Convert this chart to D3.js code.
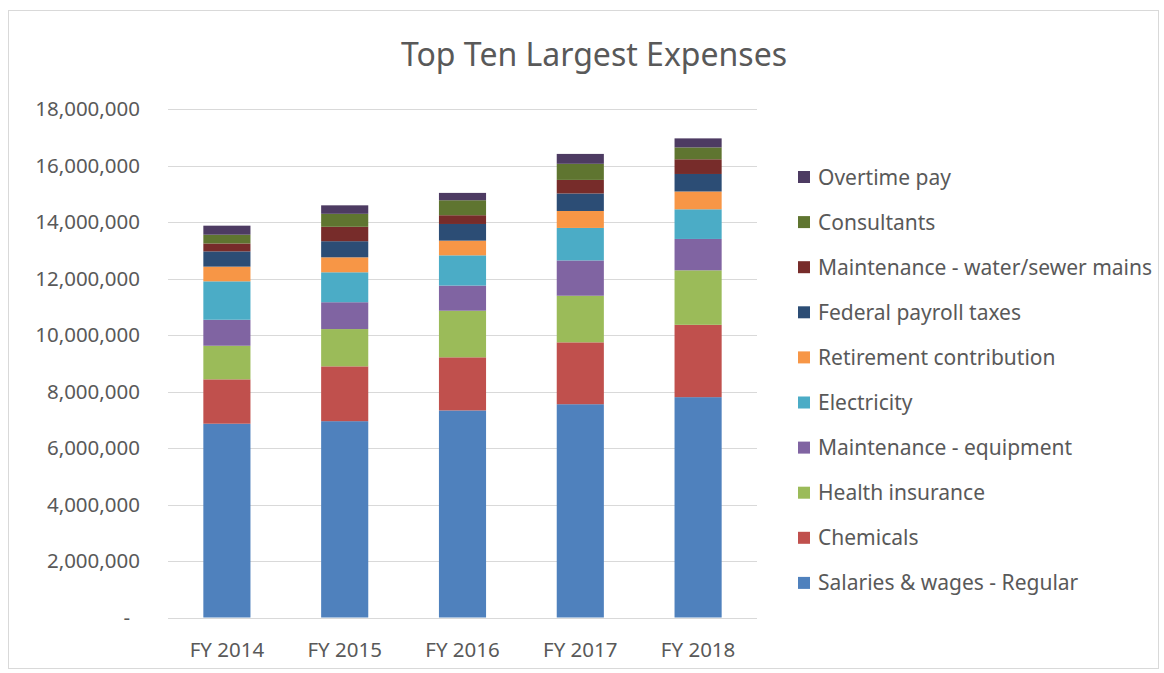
<!DOCTYPE html>
<html><head><meta charset="utf-8">
<script src="https://cdn.jsdelivr.net/npm/d3@7/dist/d3.min.js"></script>
<style>body{margin:0;background:#fff}svg text{font-family:"Noto Sans","Open Sans",sans-serif;fill:#595959}</style>
</head><body><svg id="c" width="1164" height="673"></svg>
<script>
const categories = ["FY 2014","FY 2015","FY 2016","FY 2017","FY 2018"];
const seriesNames = ["Salaries & wages - Regular","Chemicals","Health insurance","Maintenance - equipment","Electricity","Retirement contribution","Federal payroll taxes","Maintenance - water/sewer mains","Consultants","Overtime pay"];
const salaries   = [6860000, 6950000, 7330000, 7550000, 7800000];
const chemicals  = [1570000, 1940000, 1880000, 2190000, 2560000];
const health     = [1190000, 1320000, 1650000, 1650000, 1930000];
const equipment  = [920000, 950000, 890000, 1250000, 1110000];
const electricity= [1360000, 1060000, 1070000, 1150000, 1050000];
const retirement = [520000, 530000, 520000, 600000, 630000];
const federal    = [540000, 570000, 590000, 620000, 620000];
const waterMains = [280000, 510000, 310000, 480000, 520000];
const consultants= [310000, 460000, 530000, 570000, 420000];
const overtime   = [320000, 300000, 260000, 350000, 320000];
const yTicks = [0,2000000,4000000,6000000,8000000,10000000,12000000,14000000,16000000,18000000];
const colors = ["#4F81BD","#C0504D","#9BBB59","#8064A2","#4BACC6","#F79646","#2C4D75","#772C2A","#5F7530","#4D3B62"];
const seriesValues = [salaries,chemicals,health,equipment,electricity,retirement,federal,waterMains,consultants,overtime];

const svg = d3.select("#c");
svg.append("rect").attr("x",8.5).attr("y",10.5).attr("width",1150).attr("height",658).attr("fill","#fff").attr("stroke","#d9d9d9");
svg.append("text").attr("x",594).attr("y",66).attr("text-anchor","middle").style("font-size","32px").text("Top Ten Largest Expenses");

const x = d3.scaleBand().domain(categories).range([168,757]).paddingInner(0.6).paddingOuter(0.3);
const y = d3.scaleLinear().domain([0,18000000]).range([617.5,109]);

const grid = svg.append("g");
grid.selectAll("line").data(yTicks).join("line")
  .attr("x1",168).attr("x2",757).attr("y1",d=>Math.round(y(d))+0.5).attr("y2",d=>Math.round(y(d))+0.5)
  .attr("stroke","#d9d9d9").attr("stroke-width",1);

const fmt = d3.format(",");
svg.append("g").selectAll("text").data(yTicks).join("text")
  .attr("x",d=>d===0?130:140).attr("y",d=>y(d)+7).attr("text-anchor","end").style("font-size","20.5px")
  .text(d=>d===0?"-":fmt(d));

const table = categories.map((c,i)=>{const o={cat:c}; seriesNames.forEach((s,j)=>o[s]=seriesValues[j][i]); return o;});
const stacked = d3.stack().keys(seriesNames)(table);
svg.append("g").selectAll("g").data(stacked).join("g").attr("fill",(d,i)=>colors[i])
  .selectAll("rect").data(d=>d).join("rect")
  .attr("x",d=>x(d.data.cat)).attr("width",x.bandwidth())
  .attr("y",d=>y(d[1])).attr("height",d=>y(d[0])-y(d[1]));

svg.append("g").selectAll("text").data(categories).join("text")
  .attr("x",d=>x(d)+x.bandwidth()/2).attr("y",657).attr("text-anchor","middle").style("font-size","20.5px").text(d=>d);

const legendOrder = seriesNames.map((s,i)=>({s,c:colors[i]})).reverse();
const lg = svg.append("g").selectAll("g").data(legendOrder).join("g")
  .attr("transform",(d,i)=>`translate(798,${177+i*45.1})`);
lg.append("rect").attr("x",0).attr("y",-6).attr("width",12).attr("height",12).attr("fill",d=>d.c);
lg.append("text").attr("x",20).attr("y",7.5).style("font-size","21px").text(d=>d.s);
</script></body></html>
